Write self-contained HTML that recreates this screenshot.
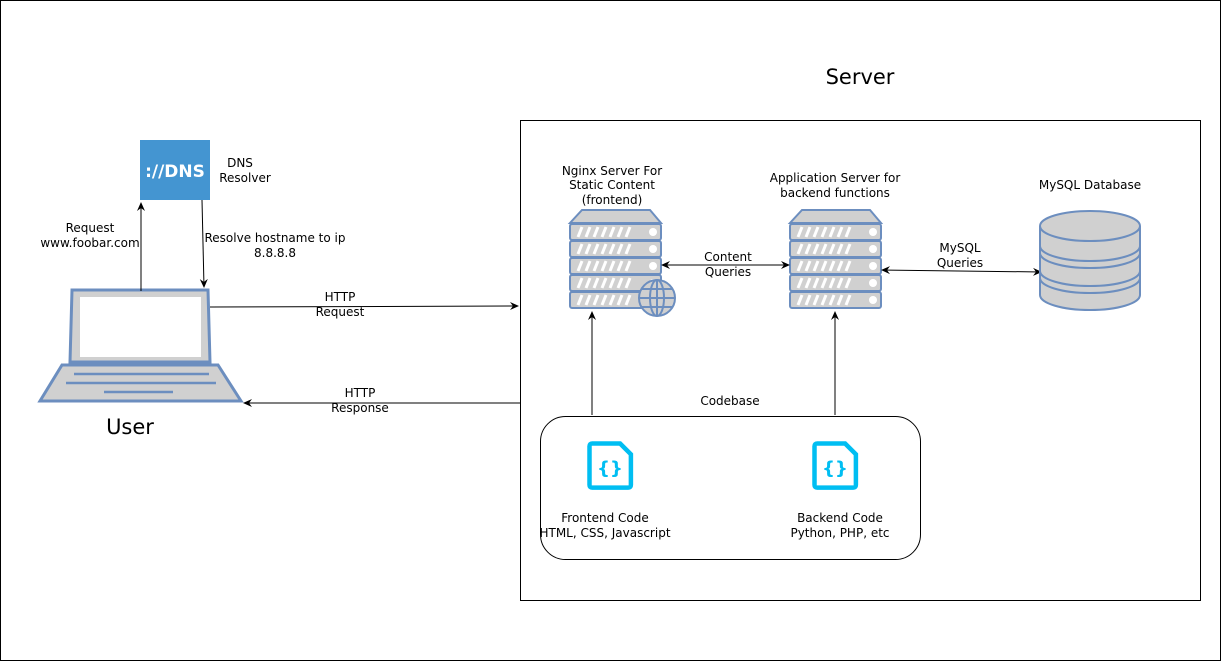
<!DOCTYPE html>
<html><head><meta charset="utf-8"><style>
html,body{margin:0;padding:0;background:#fff}
svg{display:block}
text{font-family:"DejaVu Sans","Liberation Sans",sans-serif;font-size:12px;fill:#000}
</style></head><body>
<svg width="1221" height="661" viewBox="0 0 1221 661" xmlns="http://www.w3.org/2000/svg">
<defs>
<marker id="a" markerWidth="10" markerHeight="10" refX="8" refY="5" orient="auto" markerUnits="userSpaceOnUse"><path d="M0,1 L9,5 L0,9 L3,5 z" fill="#000"/></marker>
<marker id="b" markerWidth="10" markerHeight="10" refX="2" refY="5" orient="auto" markerUnits="userSpaceOnUse"><path d="M10,1 L1,5 L10,9 L7,5 z" fill="#000"/></marker>
<g id="srv">
<path d="M12,0 L80,0 L91,13 L0,13 z" fill="#d0d0d0" stroke="#6c8ebf" stroke-width="2"/>
<g id="slab"><rect x="0" y="14" width="91" height="16" rx="2" fill="#d0d0d0" stroke="#6c8ebf" stroke-width="2"/>
<path d="M8,27 l4,-10 M16,27 l4,-10 M24,27 l4,-10 M32,27 l4,-10 M40,27 l4,-10 M48,27 l4,-10 M56,27 l4,-10" stroke="#fff" stroke-width="3"/>
<circle cx="83" cy="22" r="4" fill="#fff"/></g>
<use href="#slab" y="17"/><use href="#slab" y="34"/><use href="#slab" y="51"/><use href="#slab" y="68"/>
</g>
<g id="code">
<path d="M3,0 L34,0 L46,12 L46,46 Q46,49 43,49 L3,49 Q0,49 0,46 L0,3 Q0,0 3,0 z" fill="none" stroke="#00bef2" stroke-width="5" transform="translate(2.5,2.5) scale(0.9)"/>
<text x="23" y="33" text-anchor="middle" style="font-size:18px;font-weight:bold;fill:#00bef2">{}</text>
</g>
</defs>
<rect x="0.5" y="0.5" width="1220" height="660" fill="#fff" stroke="#000"/>
<text x="860" y="84" text-anchor="middle" style="font-size:21px">Server</text>
<rect x="520.5" y="120.5" width="680" height="480" fill="none" stroke="#000"/>
<!-- DNS -->
<rect x="140" y="140" width="70" height="60" fill="#4495d1"/>
<text x="175" y="177" text-anchor="middle" style="font-size:17px;font-weight:bold;fill:#fff">://DNS</text>
<text x="240" y="167" text-anchor="middle">DNS</text>
<text x="245" y="182" text-anchor="middle">Resolver</text>
<!-- laptop -->
<path d="M72,290 L208,290 L210,362 L70,362 z" fill="#d0d0d0" stroke="#6c8ebf" stroke-width="3"/>
<rect x="80" y="297" width="121" height="60" fill="#fff"/>
<path d="M62,365 L218,365 L241,401 L40,401 z" fill="#d0d0d0" stroke="#6c8ebf" stroke-width="3"/>
<path d="M74,374 L209,374 M66,383 L216,383 M104,392 L173,392" stroke="#6c8ebf" stroke-width="2.5"/>
<text x="130" y="434" text-anchor="middle" style="font-size:21px">User</text>
<!-- arrows dns -->
<line x1="141" y1="291" x2="141" y2="203" stroke="#000" marker-end="url(#a)"/>
<line x1="202" y1="200" x2="204" y2="287" stroke="#000" marker-end="url(#a)"/>
<text x="90" y="232" text-anchor="middle">Request</text>
<text x="90" y="247" text-anchor="middle">www.foobar.com</text>
<text x="275" y="242" text-anchor="middle">Resolve hostname to ip</text>
<text x="275" y="257" text-anchor="middle">8.8.8.8</text>
<!-- http -->
<line x1="210" y1="307" x2="518" y2="306" stroke="#000" marker-end="url(#a)"/>
<text x="340" y="301" text-anchor="middle">HTTP</text>
<text x="340" y="316" text-anchor="middle">Request</text>
<line x1="520" y1="403" x2="244" y2="403" stroke="#000" marker-end="url(#a)"/>
<text x="360" y="397" text-anchor="middle">HTTP</text>
<text x="360" y="412" text-anchor="middle">Response</text>
<!-- servers -->
<use href="#srv" x="570" y="210"/>
<g transform="translate(657,298)" fill="none" stroke="#6c8ebf" stroke-width="2">
<circle r="18" fill="#d0d0d0"/><ellipse rx="7" ry="18"/><line x1="0" y1="-18" x2="0" y2="18"/><line x1="-18" y1="0" x2="18" y2="0"/><path d="M-15,-9 H15 M-15,9 H15"/></g>
<use href="#srv" x="790" y="210"/>
<text x="612" y="175" text-anchor="middle">Nginx Server For</text>
<text x="612" y="189" text-anchor="middle">Static Content</text>
<text x="612" y="204" text-anchor="middle">(frontend)</text>
<text x="835" y="182" text-anchor="middle">Application Server for</text>
<text x="835" y="197" text-anchor="middle">backend functions</text>
<line x1="662" y1="265" x2="789" y2="265" stroke="#000" marker-start="url(#b)" marker-end="url(#a)"/>
<text x="728" y="261" text-anchor="middle">Content</text>
<text x="728" y="276" text-anchor="middle">Queries</text>
<line x1="882" y1="270" x2="1041" y2="272" stroke="#000" marker-start="url(#b)" marker-end="url(#a)"/>
<text x="960" y="252" text-anchor="middle">MySQL</text>
<text x="960" y="267" text-anchor="middle">Queries</text>
<!-- DB -->
<g stroke="#6c8ebf" stroke-width="2" fill="#d0d0d0">
<path d="M1040,226 L1040,295 A50,15 0 0 0 1140,295 L1140,226"/>
<ellipse cx="1090" cy="226" rx="50" ry="15"/>
<path d="M1040,246 A50,15 0 0 0 1140,246 M1040,253 A50,15 0 0 0 1140,253 M1040,271 A50,15 0 0 0 1140,271 M1040,278 A50,15 0 0 0 1140,278" fill="none"/>
</g>
<text x="1090" y="189" text-anchor="middle">MySQL Database</text>
<!-- codebase -->
<rect x="540.5" y="416.5" width="380" height="143" rx="25" fill="none" stroke="#000"/>
<text x="730" y="405" text-anchor="middle">Codebase</text>
<line x1="592" y1="415" x2="592" y2="312" stroke="#000" marker-end="url(#a)"/>
<line x1="835" y1="415" x2="835" y2="312" stroke="#000" marker-end="url(#a)"/>
<use href="#code" x="587" y="441"/>
<use href="#code" x="812" y="441"/>
<text x="605" y="522" text-anchor="middle">Frontend Code</text>
<text x="605" y="537" text-anchor="middle">HTML, CSS, Javascript</text>
<text x="840" y="522" text-anchor="middle">Backend Code</text>
<text x="840" y="537" text-anchor="middle">Python, PHP, etc</text>
</svg>
</body></html>
